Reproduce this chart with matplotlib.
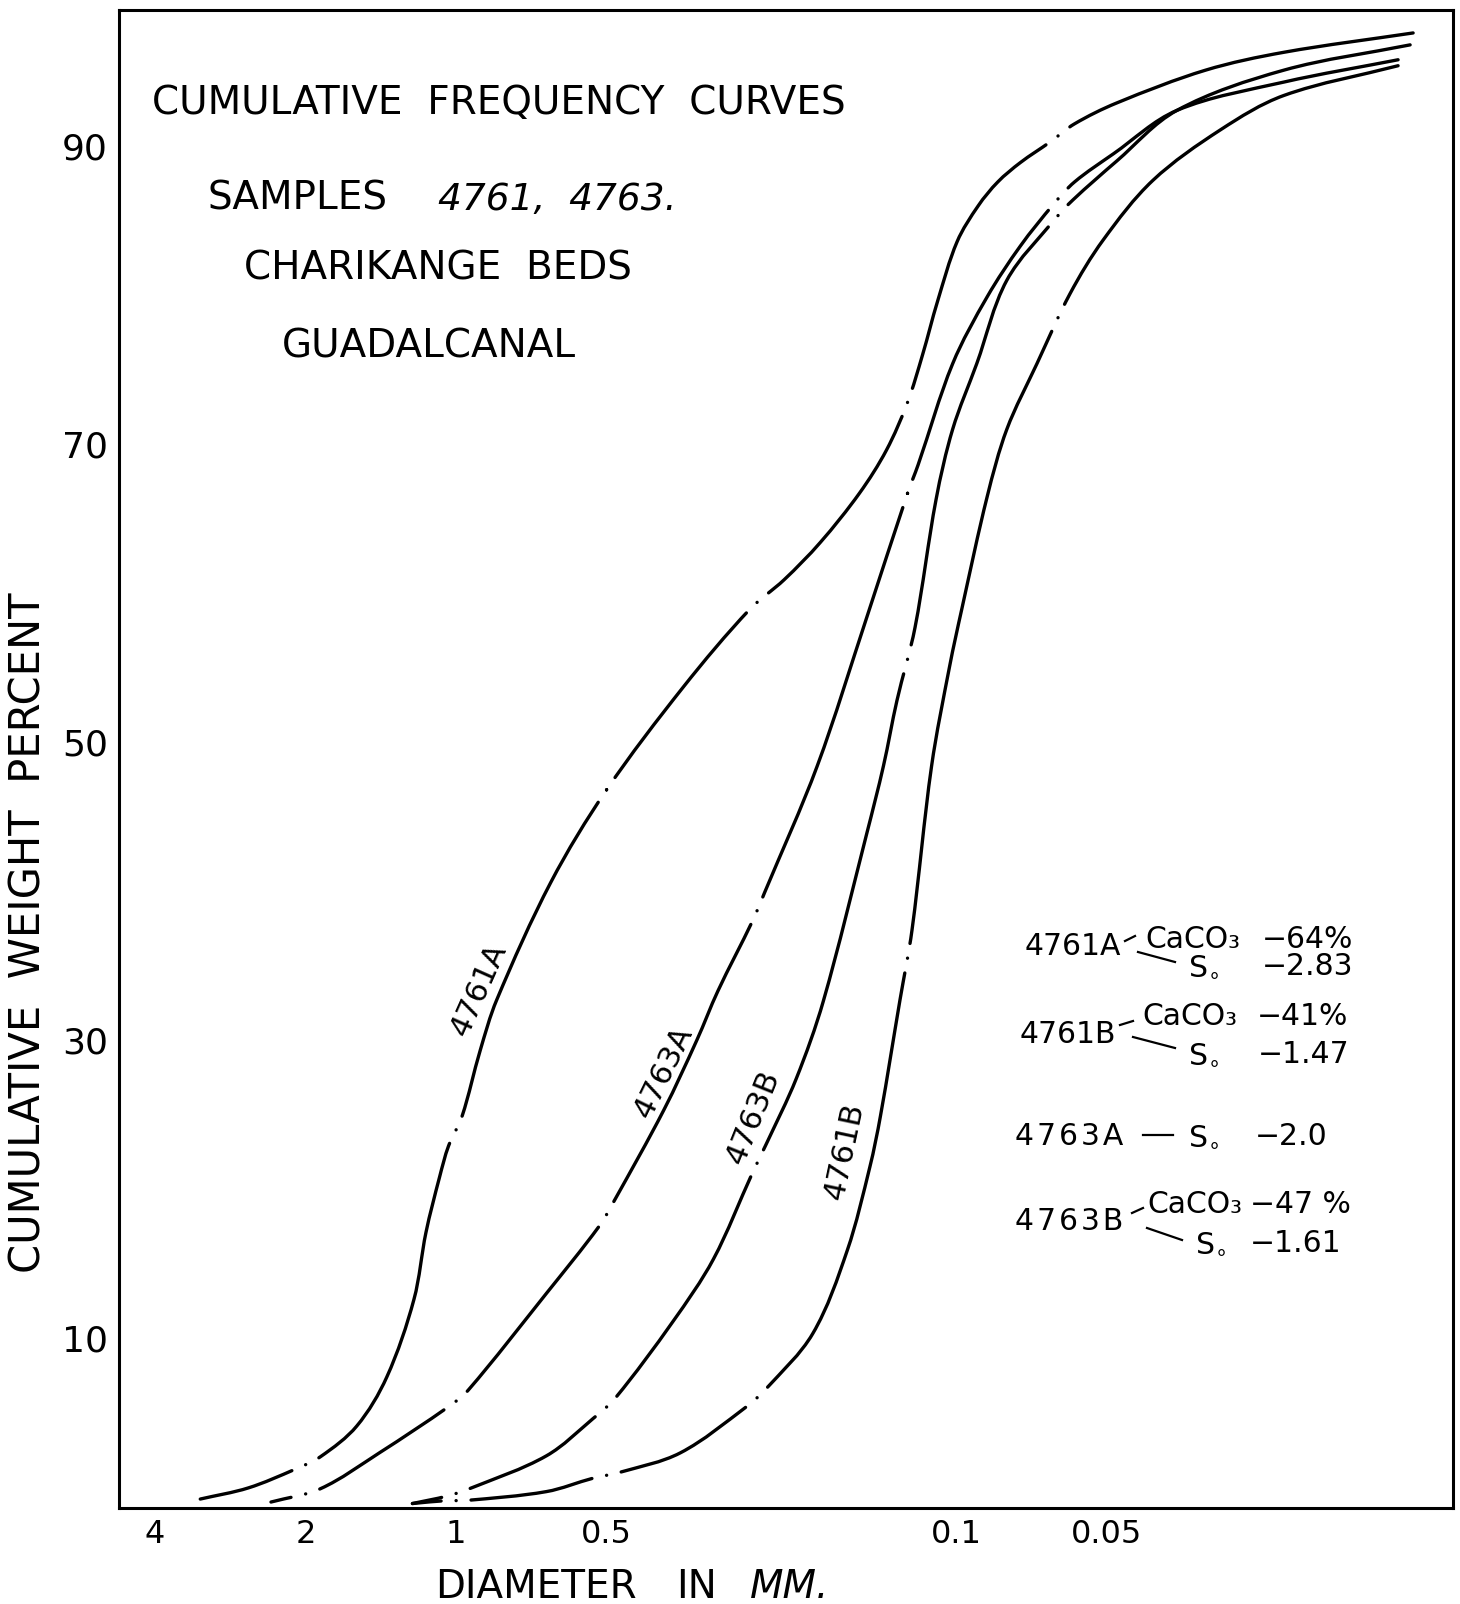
import numpy as np
import matplotlib
matplotlib.use("Agg")
import matplotlib.pyplot as plt
from matplotlib.lines import Line2D
from matplotlib.path import Path
from matplotlib.patches import PathPatch

plt.rcParams["font.family"] = "DejaVu Sans"
plt.rcParams["lines.scale_dashes"] = False

# grain size in phi units (phi = -log2 of diameter in mm) vs cumulative weight percent
phi_4761A = [-1.70, -1.38, -1.07, -0.90, -0.66, -0.46, -0.28, -0.20, -0.11, -0.05, 0.04, 0.16,
             0.27, 0.63, 1.00, 1.51, 1.95, 2.18, 2.42, 2.68, 2.86, 3.00, 3.10, 3.20, 3.33, 3.47,
             3.60, 3.75, 3.95, 4.11, 4.39, 4.98, 5.50, 6.36]
pct_4761A = [-0.8, -0.05, 1.2, 2.05, 4.1, 7.4, 12.6, 17.1, 20.8, 22.9, 24.9, 29.3,
             32.7, 40.6, 46.8, 53.7, 58.9, 60.9, 63.4, 66.7, 69.6, 72.8, 76.0, 79.6, 83.6, 86.0,
             87.6, 88.9, 90.3, 91.5, 92.9, 95.1, 96.3, 97.6]

phi_4763A = [-1.23, -0.90, -0.51, -0.05, 0.08, 0.60, 0.95, 1.05, 1.38, 1.60, 1.74, 1.97, 2.05,
             2.40, 2.73, 3.00, 3.07, 3.30, 3.53, 3.75, 3.97, 4.11, 4.37, 4.79, 5.50, 6.26]
pct_4763A = [-1.0, -0.1, 2.3, 5.4, 6.5, 13.0, 17.5, 19.2, 25.3, 30.0, 33.3, 38.0, 39.9,
             48.4, 58.4, 66.7, 68.6, 75.4, 79.9, 83.3, 86.1, 87.6, 89.5, 92.4, 94.3, 95.8]

phi_4763B = [-0.29, -0.06, 0.09, 0.60, 0.91, 1.06, 1.44, 1.71, 1.97, 2.06, 2.26, 2.44, 2.73,
             2.84, 2.93, 3.05, 3.19, 3.30, 3.46, 3.66, 3.98, 4.10, 4.39, 4.79, 5.50, 6.34]
pct_4763B = [-1.1, -0.6, -0.1, 2.1, 4.6, 6.0, 11.1, 15.3, 21.1, 23.0, 27.4, 32.6, 43.9,
             48.4, 52.8, 57.7, 66.3, 71.0, 75.4, 81.0, 85.1, 86.4, 89.0, 92.4, 95.1, 96.8]

phi_4761B = [-0.29, -0.06, 0.06, 0.60, 0.91, 1.09, 1.49, 1.93, 2.06, 2.37, 2.60, 2.75, 2.82,
             2.95, 3.03, 3.16, 3.28, 3.36, 3.53, 3.66, 3.86, 4.08, 4.30, 4.63, 5.08, 5.50, 6.26]
pct_4761B = [-1.1, -0.9, -0.9, -0.3, 0.6, 1.0, 2.3, 5.4, 6.6, 10.3, 15.9, 21.5, 24.9,
             32.7, 37.4, 48.4, 55.1, 58.9, 66.5, 71.0, 75.4, 80.1, 83.7, 87.7, 91.1, 93.4, 95.4]

curves = [
    ("4761A", phi_4761A, pct_4761A),
    ("4763A", phi_4763A, pct_4763A),
    ("4763B", phi_4763B, pct_4763B),
    ("4761B", phi_4761B, pct_4761B),
]

diam_ticks = [4, 2, 1, 0.5, 0.1, 0.05]
diam_labels = ["4", "2", "1", "0.5", "0.1", "0.05"]
pct_ticks = [10, 30, 50, 70, 90]

W, H, DPI = 1460, 1604, 100
LW = 2.4

fig = plt.figure(figsize=(W / DPI, H / DPI), dpi=DPI)
ax = fig.add_axes([119 / W, 1 - 1508 / H, 1334 / W, 1498 / H])
ax.set_xlim(-2.24, 6.625)
ax.set_ylim(-1.4, 99.14)
ax.set_xticks(-np.log2(diam_ticks))
ax.set_xticklabels(diam_labels)
ax.set_yticks(pct_ticks)
ax.tick_params(axis="x", length=0, labelsize=23, pad=8)
ax.tick_params(axis="y", length=0, labelsize=26, pad=8)
for sp in ax.spines.values():
    sp.set_linewidth(2.2)


def smooth_path(x, y):
    # smooth pen stroke through the read points (cubic segments, chord-scaled tangents)
    sx, sy = 150.5, 14.9
    P = np.column_stack([np.asarray(x) * sx, np.asarray(y) * sy])
    n = len(P)
    T = np.zeros_like(P)
    for i in range(n):
        a, b = P[max(i - 1, 0)], P[min(i + 1, n - 1)]
        v = b - a
        T[i] = v / np.hypot(*v)
    verts, codes = [P[0]], [Path.MOVETO]
    for i in range(n - 1):
        L = np.hypot(*(P[i + 1] - P[i]))
        verts += [P[i] + T[i] * L / 3, P[i + 1] - T[i + 1] * L / 3, P[i + 1]]
        codes += [Path.CURVE4] * 3
    V = np.array(verts) / [sx, sy]
    return Path(V, codes)


def gapped_dashes(path, phi):
    # long strokes broken by gap-dot-gap at every whole phi value
    poly = ax.transData.transform_path(path).to_polygons(closed_only=False)[0]
    s = np.concatenate([[0.0], np.cumsum(np.hypot(*np.diff(poly, axis=0).T))])
    px = np.maximum.accumulate(poly[:, 0])
    gap, dot = 15.0, 0.1
    seq, pos = [], 0.0
    for k in range(-1, 5):
        if k <= phi[0] or k >= phi[-1]:
            continue
        xk = ax.transData.transform((k, 0))[0]
        m = np.interp(xk, px, s)
        if m - gap - pos <= 0:
            continue
        seq += [m - gap - pos, gap, dot, gap - dot]
        pos = m + gap
    seq += [s[-1] - pos + 50, 10]
    return [v * 72 / DPI for v in seq]


for name, phi, pct in curves:
    path = smooth_path(phi, pct)
    patch = PathPatch(path, fill=False, edgecolor="black", lw=LW,
                      capstyle="round", joinstyle="round")
    patch.set_linestyle((0, gapped_dashes(path, phi)))
    ax.add_patch(patch)

# labels written along the curves
lab = dict(transform=ax.transAxes, fontsize=22, ha="center", va="center",
           rotation_mode="anchor")
ax.text(0.270, 0.346, "4761A", rotation=66, **lab)
ax.text(0.408, 0.291, "4763A", rotation=64, **lab)
ax.text(0.4755, 0.261, "4763B", rotation=68, **lab)
ax.text(0.544, 0.238, "4761B", rotation=78, **lab)


def ptext(x, y, s, size=21.5, **kw):
    fig.text(x / W, 1 - y / H, s, fontsize=size, ha="left", va="baseline", **kw)


def pline(x0, y0, x1, y1, lw=1.6):
    fig.add_artist(Line2D([x0 / W, x1 / W], [1 - y0 / H, 1 - y1 / H],
                          transform=fig.transFigure, color="black", lw=lw))


# title block
ptext(152, 114, "CUMULATIVE  FREQUENCY  CURVES", size=28)
ptext(207, 210, "SAMPLES", size=28)
ptext(438, 210, "4761,  4763.", size=27, style="italic")
ptext(244, 280, "CHARIKANGE  BEDS", size=28)
ptext(282, 358, "GUADALCANAL", size=28)

# axis titles
fig.text(29 / W, 1 - 933 / H, "CUMULATIVE  WEIGHT  PERCENT", rotation=90,
         fontsize=30, ha="center", va="center")
ptext(435, 1598, "DIAMETER", size=28)
ptext(676, 1598, "IN", size=28)
ptext(750, 1598, "MM.", size=28, style="italic")

# sample notes
so = r"S$_{\circ}$"
hs = "\u200a"
ptext(1025, 955, "4761A")
pline(1125, 941, 1135, 936)
ptext(1145, 948, "CaCO₃")
ptext(1262, 948, "−64%")
pline(1138, 952, 1175, 962)
ptext(1188, 975, so)
ptext(1262, 975, "−2.83")

ptext(1020, 1043, "4761B")
pline(1120, 1025, 1133, 1021)
ptext(1142, 1025, "CaCO₃")
ptext(1257, 1025, "−41%")
pline(1133, 1037, 1175, 1048)
ptext(1188, 1063, so)
ptext(1258, 1063, "−1.47")

ptext(1015, 1145, hs.join("4763A"))
pline(1143, 1135, 1173, 1135)
ptext(1188, 1145, so)
ptext(1255, 1145, "−2.0")

ptext(1015, 1230, hs.join("4763B"))
pline(1132, 1213, 1143, 1208)
ptext(1147, 1213, "CaCO₃")
ptext(1250, 1213, "−47 %")
pline(1147, 1228, 1182, 1240)
ptext(1195, 1252, so)
ptext(1250, 1252, "−1.61")

fig.savefig("out.png", dpi=DPI)
